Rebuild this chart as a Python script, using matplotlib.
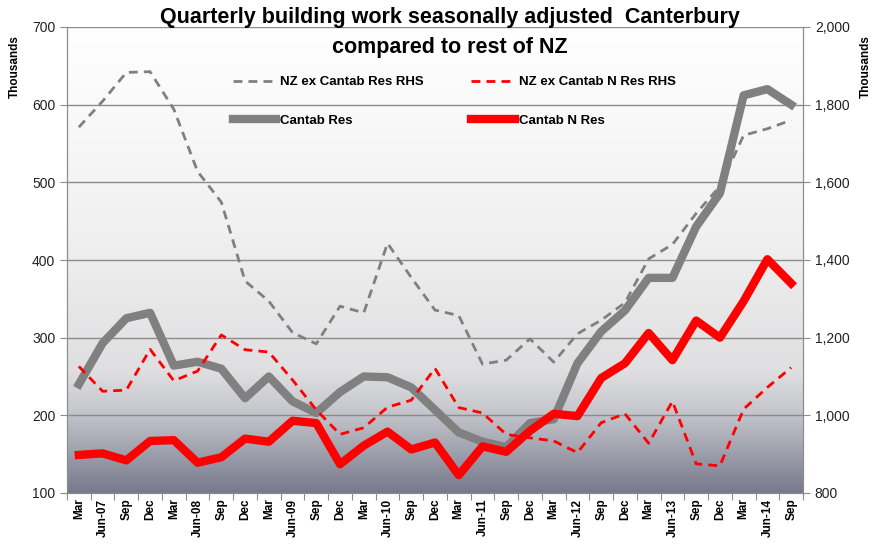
import numpy as np
import matplotlib
matplotlib.use('Agg')
import matplotlib.pyplot as plt
from matplotlib.colors import LinearSegmentedColormap

plt.rcParams['font.family'] = ['Liberation Sans', 'DejaVu Sans']

# quarters Mar-07 .. Sep-14
quarters = ['Mar', 'Jun-07', 'Sep', 'Dec', 'Mar', 'Jun-08', 'Sep', 'Dec',
            'Mar', 'Jun-09', 'Sep', 'Dec', 'Mar', 'Jun-10', 'Sep', 'Dec',
            'Mar', 'Jun-11', 'Sep', 'Dec', 'Mar', 'Jun-12', 'Sep', 'Dec',
            'Mar', 'Jun-13', 'Sep', 'Dec', 'Mar', 'Jun-14', 'Sep']

# left axis (thousands)
cantab_res = [240, 293, 325, 332, 264, 269, 260, 222, 250, 218, 203, 230,
              250, 249, 236, 207, 178, 166, 159, 190, 195, 267, 308, 335,
              377, 377, 443, 486, 612, 620, 600]
cantab_nres = [149, 151, 142, 167, 168, 139, 146, 170, 166, 193, 190, 137,
               161, 179, 156, 165, 123, 160, 153, 180, 202, 199, 248, 267,
               306, 271, 322, 300, 347, 401, 370]

# right axis (thousands)
nz_res = [1742, 1809, 1883, 1885, 1788, 1628, 1549, 1346, 1294, 1213, 1184, 1281,
          1264, 1443, 1355, 1271, 1257, 1132, 1142, 1197, 1137, 1210, 1245, 1290,
          1403, 1440, 1520, 1590, 1721, 1738, 1760]
nz_nres = [1126, 1062, 1065, 1170, 1089, 1114, 1207, 1169, 1163, 1091, 1014, 951,
           968, 1021, 1039, 1121, 1020, 1006, 951, 942, 934, 904, 981, 1004,
           928, 1036, 875, 870, 1016, 1072, 1123]

x = np.arange(len(quarters))
grid_col = '#8c8c8c'

fig = plt.figure(figsize=(8.74, 5.46), dpi=100)
ax = fig.add_axes([67/874, 1 - 493/546, 736/874, 466/546])
ax2 = ax.twinx()

# gradient background of the plot area (white at top, slate at bottom)
cmap = LinearSegmentedColormap.from_list('bg', [
    (0.0, '#ffffff'), (0.45, '#f0f0f0'), (0.74, '#dfdfe1'),
    (0.83, '#c4c5cb'), (1.0, '#777a8c')])
grad = np.linspace(0, 1, 256).reshape(-1, 1)
ax.imshow(grad, cmap=cmap, aspect='auto', origin='upper',
          extent=[-0.5, len(x) - 0.5, 100, 700], zorder=0)

ax.plot(x, cantab_res, color='#808080', lw=6, label='Cantab Res', zorder=3)
ax.plot(x, cantab_nres, color='#ff0000', lw=6, label='Cantab N Res', zorder=4)
ax2.plot(x, nz_res, color='#808080', lw=2, ls=(0, (3.2, 2.2)),
         label='NZ ex Cantab Res RHS')
ax2.plot(x, nz_nres, color='#ff0000', lw=2, ls=(0, (3.2, 2.2)),
         label='NZ ex Cantab N Res RHS')

ax.set_xlim(-0.5, len(x) - 0.5)
ax.set_ylim(100, 700)
ax2.set_ylim(800, 2000)
ax.set_yticks(range(100, 701, 100))
ax2.set_yticks(range(800, 2001, 200))
ax2.set_yticklabels([f'{v:,}' for v in range(800, 2001, 200)])
ax.grid(axis='y', color=grid_col, lw=1)
ax.set_axisbelow(False)
ax.grid(False, axis='x')

ax.set_xticks(np.arange(-0.5, len(x), 1))
ax.set_xticklabels([])
ax.set_xticks(x, minor=True)
ax.set_xticklabels(quarters, minor=True, rotation=90, fontweight='bold', fontsize=8.5)
ax.tick_params(axis='x', which='minor', length=0, pad=4)
ax.tick_params(axis='x', which='major', length=5, color=grid_col)
ax.tick_params(axis='y', length=5, color=grid_col, labelsize=10, labelcolor='#222222')
ax2.tick_params(axis='y', length=5, color=grid_col, labelsize=10, labelcolor='#222222')

for a in (ax, ax2):
    for s in a.spines.values():
        s.set_color(grid_col)
    a.spines['top'].set_visible(False)
ax2.patch.set_visible(False)

h1, l1 = ax.get_legend_handles_labels()
h2, l2 = ax2.get_legend_handles_labels()
handles = [h2[0], h1[0], h2[1], h1[1]]
labels = [l2[0], l1[0], l2[1], l1[1]]
ax2.legend(handles, labels, ncol=2, loc='upper left', bbox_to_anchor=(0.225, 0.895),
           frameon=False, prop={'weight': 'bold', 'size': 9.5},
           handlelength=3.3, handletextpad=0.3, labelspacing=2.0,
           columnspacing=3.6, borderpad=0, borderaxespad=0)

fig.text(0.515, 1 - 17/546, 'Quarterly building work seasonally adjusted  Canterbury',
         ha='center', va='center', fontsize=15.5, fontweight='bold')
fig.text(0.515, 1 - 47/546, 'compared to rest of NZ',
         ha='center', va='center', fontsize=15.5, fontweight='bold')
fig.text(15/874, 1 - 67/546, 'Thousands', rotation=90, ha='center', va='center',
         fontsize=8.5, fontweight='bold')
fig.text(866/874, 1 - 67/546, 'Thousands', rotation=90, ha='center', va='center',
         fontsize=8.5, fontweight='bold')

fig.savefig('out.png', dpi=100)
